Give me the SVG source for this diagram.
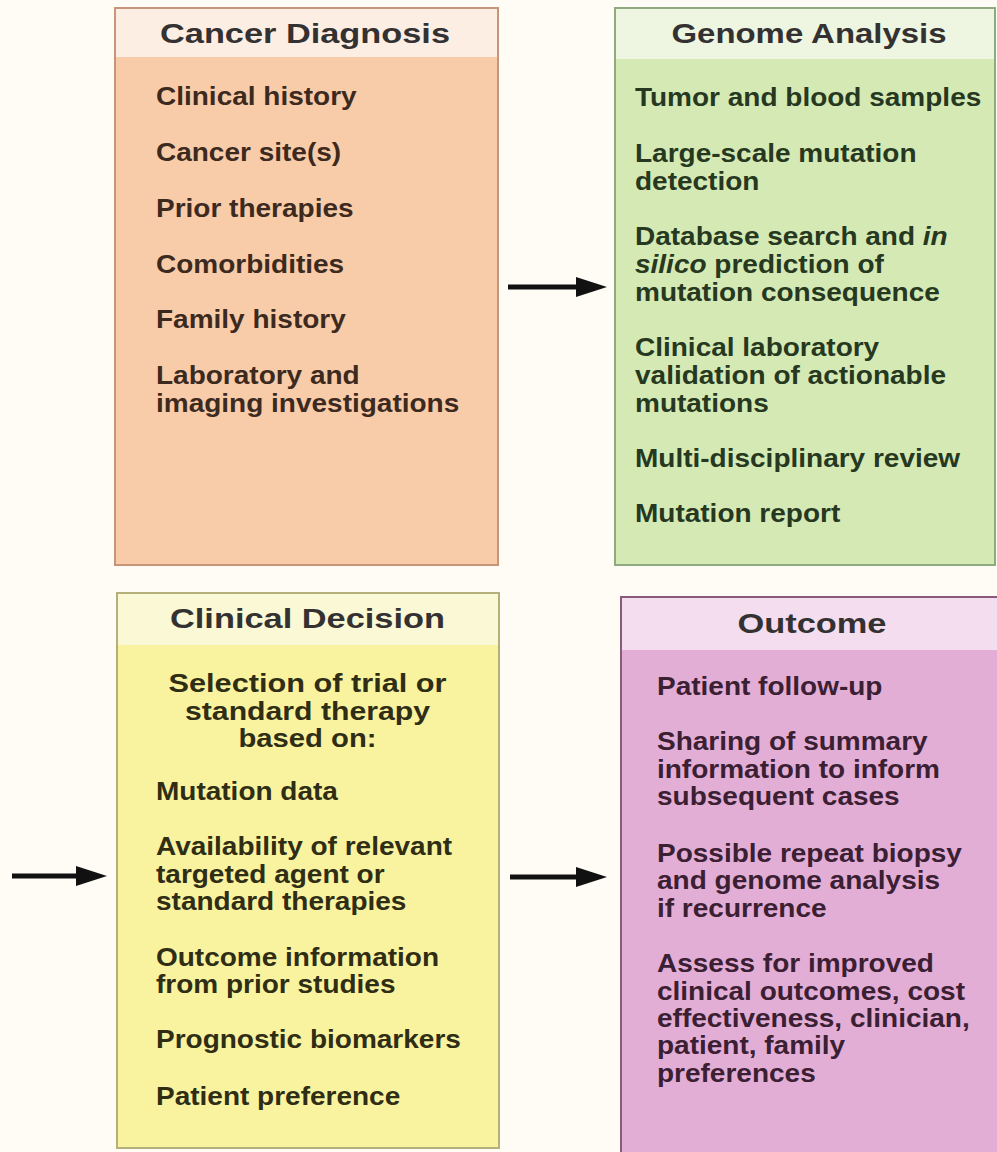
<svg xmlns="http://www.w3.org/2000/svg" width="997" height="1152" viewBox="0 0 997 1152">
<style>
  text { font-family: "Liberation Sans", Arial, sans-serif; font-weight: bold; }
  .hd { font-size: 27px; fill: #333131; text-anchor: middle; }
  .bd { font-size: 25px; }
  .c1 { fill: #3d2a1f; }
  .c2 { fill: #263820; }
  .c3 { fill: #2f2d14; }
  .c4 { fill: #3b2033; }
  .conn { stroke: #111; stroke-width: 5; fill: none; }
</style>
<defs>
  <marker id="ah" markerUnits="userSpaceOnUse" markerWidth="32" markerHeight="22" viewBox="0 0 32 22" refX="2" refY="11" orient="auto">
    <path d="M0,1 L31,11 L0,21 Z" fill="#111"/>
  </marker>
</defs>
<rect x="0" y="0" width="997" height="1152" fill="#FFFCF6"/>

<g id="cancer-diagnosis">
  <rect x="115" y="8" width="383" height="557" fill="#F9CCA9" stroke="#C9957A" stroke-width="2"/>
  <rect x="116" y="9" width="381" height="48" fill="#FDEEE3"/>
  <text class="hd" x="305" y="43" textLength="290" lengthAdjust="spacingAndGlyphs">Cancer Diagnosis</text>
  <g class="bd c1" transform="translate(156 0) scale(1.12 1)">
    <text x="0" y="105">Clinical history</text>
    <text x="0" y="161">Cancer site(s)</text>
    <text x="0" y="217">Prior therapies</text>
    <text x="0" y="273">Comorbidities</text>
    <text x="0" y="328">Family history</text>
    <text x="0" y="384">Laboratory and</text>
    <text x="0" y="412">imaging investigations</text>
  </g>
</g>

<g id="genome-analysis">
  <rect x="615" y="8" width="380" height="557" fill="#D5E9B5" stroke="#8FAA7F" stroke-width="2"/>
  <rect x="616" y="9" width="378" height="50" fill="#EEF5E0"/>
  <text class="hd" x="809" y="43" textLength="275" lengthAdjust="spacingAndGlyphs">Genome Analysis</text>
  <g class="bd c2" transform="translate(635 0) scale(1.12 1)">
    <text x="0" y="106">Tumor and blood samples</text>
    <text x="0" y="162">Large-scale mutation</text>
    <text x="0" y="190">detection</text>
    <text x="0" y="245">Database search and <tspan font-style="italic">in</tspan></text>
    <text x="0" y="273"><tspan font-style="italic">silico</tspan> prediction of</text>
    <text x="0" y="301">mutation consequence</text>
    <text x="0" y="356">Clinical laboratory</text>
    <text x="0" y="384">validation of actionable</text>
    <text x="0" y="412">mutations</text>
    <text x="0" y="467">Multi-disciplinary review</text>
    <text x="0" y="522">Mutation report</text>
  </g>
</g>

<g id="clinical-decision">
  <rect x="117" y="593" width="382" height="555" fill="#F9F3A0" stroke="#B5B07A" stroke-width="2"/>
  <rect x="118" y="594" width="380" height="51" fill="#FAF8D5"/>
  <text class="hd" x="307.5" y="628" textLength="275" lengthAdjust="spacingAndGlyphs">Clinical Decision</text>
  <g class="bd c3" text-anchor="middle">
    <text x="307.5" y="692" textLength="278" lengthAdjust="spacingAndGlyphs">Selection of trial or</text>
    <text x="307.5" y="720" textLength="245" lengthAdjust="spacingAndGlyphs">standard therapy</text>
    <text x="307.5" y="747" textLength="138" lengthAdjust="spacingAndGlyphs">based on:</text>
  </g>
  <g class="bd c3" transform="translate(156 0) scale(1.12 1)">
    <text x="0" y="800">Mutation data</text>
    <text x="0" y="855">Availability of relevant</text>
    <text x="0" y="883">targeted agent or</text>
    <text x="0" y="910">standard therapies</text>
    <text x="0" y="966">Outcome information</text>
    <text x="0" y="993">from prior studies</text>
    <text x="0" y="1048">Prognostic biomarkers</text>
    <text x="0" y="1105">Patient preference</text>
  </g>
</g>

<g id="outcome">
  <rect x="621" y="597" width="390" height="570" fill="#E3AED5" stroke="#8A5A7A" stroke-width="2"/>
  <rect x="622" y="598" width="388" height="52" fill="#F3DDEF"/>
  <text class="hd" x="812" y="633" textLength="149" lengthAdjust="spacingAndGlyphs">Outcome</text>
  <g class="bd c4" transform="translate(657 0) scale(1.12 1)">
    <text x="0" y="695">Patient follow-up</text>
    <text x="0" y="750">Sharing of summary</text>
    <text x="0" y="778">information to inform</text>
    <text x="0" y="805">subsequent cases</text>
    <text x="0" y="862">Possible repeat biopsy</text>
    <text x="0" y="889">and genome analysis</text>
    <text x="0" y="917">if recurrence</text>
    <text x="0" y="972">Assess for improved</text>
    <text x="0" y="1000">clinical outcomes, cost</text>
    <text x="0" y="1027">effectiveness, clinician,</text>
    <text x="0" y="1054">patient, family</text>
    <text x="0" y="1082">preferences</text>
  </g>
</g>

<g id="connectors">
  <line class="conn" x1="508" y1="287" x2="578" y2="287" marker-end="url(#ah)"/>
  <line class="conn" x1="12" y1="876" x2="78" y2="876" marker-end="url(#ah)"/>
  <line class="conn" x1="510" y1="877" x2="578" y2="877" marker-end="url(#ah)"/>
</g>
</svg>
